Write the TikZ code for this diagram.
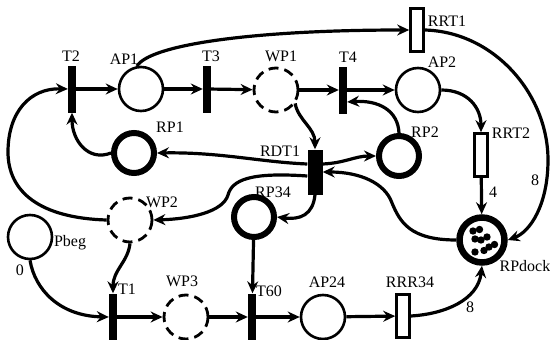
\documentclass[tikz,border=0pt]{standalone}
\usepackage{fontspec}
\setmainfont{Liberation Serif}
\usetikzlibrary{arrows.meta}
\begin{document}
\begin{tikzpicture}[x=1pt,y=-1pt,
  pl/.style={circle,draw,line width=2.6pt,minimum size=44pt,inner sep=0pt},
  dpl/.style={pl,line width=2.8pt,dash pattern=on 10pt off 6pt},
  rpl/.style={circle,draw,line width=6pt,minimum size=40pt,inner sep=0pt},
  bar/.style={rectangle,fill=black,minimum width=8pt,minimum height=47pt,inner sep=0pt},
  wbar/.style={bar,minimum width=15pt,minimum height=45pt},
  rbar/.style={rectangle,draw,line width=2.6pt,fill=white,minimum width=13pt,minimum height=43pt,inner sep=0pt},
  lbl/.style={inner sep=0pt,font=\fontsize{16}{16}\selectfont},
  arc/.style={line width=3.2pt,-{Stealth[length=12pt,width=11pt,inset=4pt]}}
]
\useasboundingbox (0,0) rectangle (550,340);
% places
\node[pl]  (AP1)  at (141,89) {};
\node[dpl] (WP1)  at (276,90) {};
\node[pl]  (AP2)  at (418,90) {};
\node[rpl] (RP1)  at (134,153) {};
\node[rpl] (RP2)  at (399,156) {};
\node[rpl] (RP34) at (254,217) {};
\node[dpl] (WP2)  at (130,220) {};
\node[pl]  (Pbeg) at (30,237) {};
\node[dpl] (WP3)  at (186,317) {};
\node[pl]  (AP24) at (323,317) {};
\node[circle,draw,line width=6.5pt,minimum size=45pt,inner sep=0pt] (RPdock) at (482,240) {};
\foreach \dx/\dy in {-9/-9,-2.5/-10.5,5/-3,-7/-1,-1/0,12.5/4.5,-7/12,2/10.5,7/7}
  \fill (482,240) ++(\dx,\dy) circle (3.7pt);
% transitions
\node[bar]  (T2)   at (72,89) {};
\node[bar]  (T3)   at (207,89) {};
\node[bar]  (T4)   at (343,90) {};
\node[wbar] (RDT1) at (315,172) {};
\node[bar]  (T1)   at (113,317) {};
\node[bar]  (T60)  at (252,317) {};
\node[rbar] (RRT1) at (417,30) {};
\node[rbar] (RRT2) at (481,155) {};
\node[rbar] (RRR34) at (403,316) {};
% labels
\node[lbl] (lT2) at (71,56) {T2};
\node[lbl] (lAP1) at (124,59) {AP1};
\node[lbl] (lT3) at (211,56) {T3};
\node[lbl] (lWP1) at (281,56) {WP1};
\node[lbl] (lT4) at (348,57) {T4};
\node[lbl] (lAP2) at (442,62) {AP2};
\node[lbl] (lRRT1) at (447,21) {RRT1};
\node[lbl] (lRRT2) at (511,133) {RRT2};
\node[lbl] (lRP2) at (425,132) {RP2};
\node[lbl] (lRDT1) at (280,151) {RDT1};
\node[lbl] (lRP1) at (170,127) {RP1};
\node[lbl] (lRP34) at (273,192) {RP34};
\node[lbl] (lWP2) at (162,202) {WP2};
\node[lbl] (lPbeg) at (70,243) {Pbeg};
\node[lbl] (l0) at (20,270) {0};
\node[lbl] (lT1) at (127,289) {T1};
\node[lbl] (lWP3) at (182,281) {WP3};
\node[lbl] (lT60) at (269,291) {T60};
\node[lbl] (lAP24) at (327,282) {AP24};
\node[lbl] (lRRR34) at (410,282) {RRR34};
\node[lbl] (l8a) at (470,307) {8};
\node[lbl] (l4) at (493,192) {4};
\node[lbl] (l8b) at (535,180) {8};
\node[lbl] (lRPdock) at (525,266) {RPdock};
% arcs
\draw[arc] (T2) -- (AP1);
\draw[arc] (AP1) -- (T3);
\draw[arc] (T3) -- (WP1);
\draw[arc] (WP1) -- (T4);
\draw[arc] (T4) -- (AP2);
\draw[arc] (AP1.100) .. controls (150,45) and (250,30) .. (RRT1.west);
\draw[arc] (RRT1.east) .. controls (495,32) and (548,95) .. (548,160) .. controls (548,205) and (530,232) .. (RPdock.east);
\draw[arc] (AP2.east) .. controls (468,90) and (481,108) .. (RRT2.north);
\draw[arc] (RRT2) -- (RPdock);
\draw[arc] (RRR34.east) .. controls (445,314) and (478,300) .. (RPdock.south);
\draw[arc] ([yshift=8pt]RDT1.east) .. controls (345,163) and (355,156) .. (RP2.west);
\draw[arc] (RP2.north) .. controls (398,110) and (378,100) .. ([yshift=-12pt]T4.east);
\draw[arc] (WP1.-35) .. controls (298,120) and (315,128) .. (RDT1.north);
\draw[arc] ([yshift=8pt]RDT1.west) .. controls (260,162) and (220,152) .. (RP1.east);
\draw[arc] (RP1.west) .. controls (88,162) and (72,140) .. (T2.south);
\draw[arc] ([yshift=-4pt]RDT1.west) .. controls (250,172) and (232,180) .. (228,195) .. controls (223,212) and (190,219) .. (WP2.east);
\draw[arc] (RPdock.west) .. controls (410,240) and (400,222) .. (392,203) .. controls (385,183) and (360,172) .. (RDT1.east);
\draw[arc] (RDT1.south) .. controls (313,215) and (300,220) .. (RP34.east);
\draw[arc] (RP34) -- (T60);
\draw[arc] (WP2.south) .. controls (128,262) and (113,270) .. (T1.north);
\draw[arc] (Pbeg.south) .. controls (35,290) and (60,316) .. (T1.west);
\draw[arc] (T1) -- (WP3);
\draw[arc] (WP3) -- (T60);
\draw[arc] (T60) -- (AP24);
\draw[arc] (AP24) -- (RRR34);
\draw[arc] (WP2.west) .. controls (40,218) and (8,192) .. (8,152) .. controls (8,112) and (30,88) .. (T2.west);
\end{tikzpicture}
\end{document}
